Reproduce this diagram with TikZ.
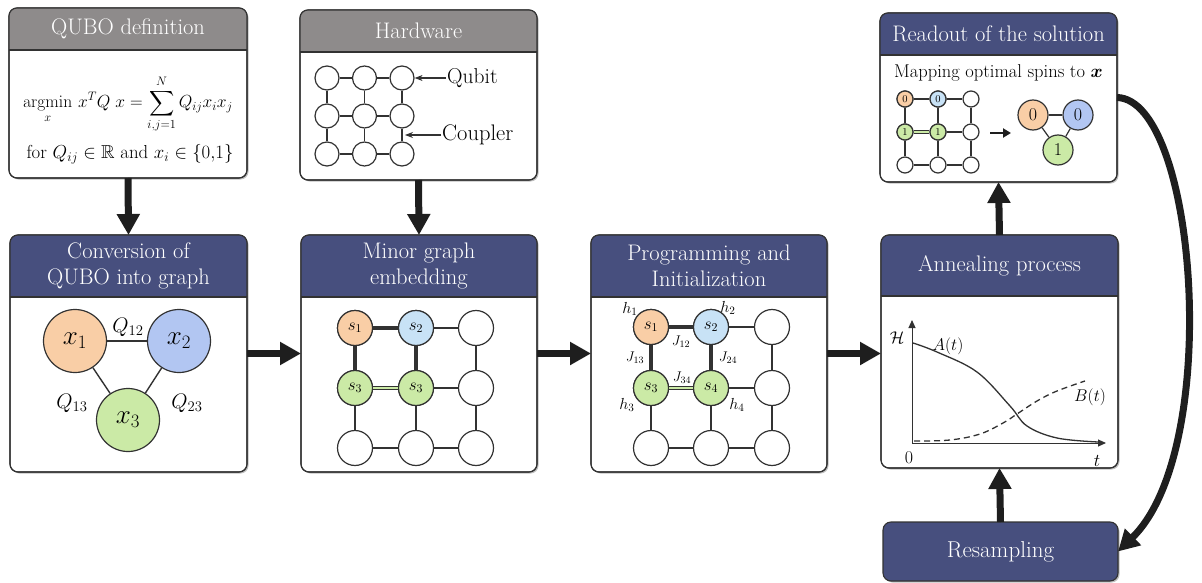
\documentclass[tikz,border=0pt]{standalone}
\usepackage{fix-cm}
\usepackage{amsmath,amssymb}
\usetikzlibrary{arrows.meta,shadows,calc}
\definecolor{navy}{RGB}{71,79,126}
\definecolor{hgray}{RGB}{142,139,139}
\definecolor{edge}{RGB}{50,50,50}
\definecolor{arrowc}{RGB}{30,30,30}
\definecolor{orng}{RGB}{249,206,166}
\definecolor{blu}{RGB}{178,198,242}
\definecolor{lblu}{RGB}{200,226,246}
\definecolor{grn}{RGB}{203,234,166}
\tikzset{
  panel/.style n args={2}{draw=edge, line width=1.1pt, fill=white, rounded corners=8pt,
    minimum width=#1, minimum height=#2, inner sep=0pt, outer sep=0pt,
    drop shadow={shadow xshift=1.5pt, shadow yshift=-1.5pt, fill=black, opacity=0.25}},
  htext/.style={text=white, font=\fontsize{22.5}{26}\selectfont, align=center, inner sep=0pt},
  bigarrow/.style={draw=arrowc, line width=7pt, -{Triangle[length=21pt,width=22pt]}},
  thinarrow/.style={draw=edge, line width=1.2pt, -{Stealth[length=8pt,width=6pt]}},
  medarrow/.style={draw=arrowc, line width=2.8pt, -{Triangle[length=8pt,width=9pt]}},
  axarrow/.style={draw=edge, line width=1pt, -{Triangle[length=8pt,width=7pt]}},
  qb/.style={circle, draw=edge, line width=1.2pt, fill=white, inner sep=0pt},
  thinedge/.style={draw=edge, line width=1.2pt},
  thickedge/.style={draw=edge, line width=3.2pt},
  dbl/.style={draw=edge, line width=1pt, double=grn, double distance=2.4pt},
  lbl/.style={inner sep=1pt, font=\fontsize{#1}{#1}\selectfont},
}
\newcommand\hdr[3]{%
  \fill[#3] ([yshift=-#2pt]#1.north west) [rounded corners=8pt] -- (#1.north west) -- (#1.north east) [sharp corners] -- ([yshift=-#2pt]#1.north east) -- cycle;
  \draw[edge, line width=1.1pt] ([yshift=-#2pt]#1.north west) -- ([yshift=-#2pt]#1.north east);
  \draw[edge, line width=1.1pt, rounded corners=8pt] (#1.north west) rectangle (#1.south east);
}
\begin{document}
\begin{tikzpicture}[x=1pt, y=-1pt]
\useasboundingbox (0,0) rectangle (1202,583);

% ---------- panels ----------
\node[panel={238pt}{170pt}] (qubo) at (128,93) {};
\hdr{qubo}{42}{hgray}
\node[panel={237pt}{170pt}] (hw) at (418.5,95) {};
\hdr{hw}{42}{hgray}
\node[panel={237pt}{169pt}] (ro) at (998.5,97.5) {};
\hdr{ro}{42}{navy}
\node[panel={237pt}{237pt}] (conv) at (128.5,353.5) {};
\hdr{conv}{62}{navy}
\node[panel={236pt}{237pt}] (minor) at (419,353.5) {};
\hdr{minor}{62}{navy}
\node[panel={236pt}{237pt}] (prog) at (709,353.5) {};
\hdr{prog}{62}{navy}
\node[panel={237pt}{233pt}] (anneal) at (999.5,351.5) {};
\hdr{anneal}{61}{navy}
\node[panel={235pt}{59pt}, fill=navy, text=white, font=\fontsize{23}{26}\selectfont] (resamp) at (1000.5,551.5) {Resampling};

% ---------- header texts ----------
\node[htext] (qubo-t) at (128,29) {QUBO definition};
\node[htext] (hw-t) at (418.5,31) {Hardware};
\node[htext] (ro-t) at (998.5,34) {Readout of the solution};
\node[htext] (conv-t) at (128.5,266) {Conversion of\\QUBO into graph};
\node[htext] (minor-t) at (419,266) {Minor graph\\embedding};
\node[htext] (prog-t) at (709,266) {Programming and\\Initialization};
\node[htext] (anneal-t) at (999.5,265.5) {Annealing process};

% ---------- QUBO definition ----------
\node[lbl=17.5] (qeq) at (128,104) {$\displaystyle \operatorname*{argmin}_{x}\, x^{T}Q\;x=\sum_{i,j=1}^{N}Q_{ij}x_ix_j$};
\node[lbl=18.8] (qcond) at (130,154) {for $Q_{ij}\in\mathbb{R}$ and $x_i\in\{0{,}1\}$};

% ---------- Hardware ----------
\foreach \i/\x in {1/327,2/364.5,3/402}
  \foreach \j/\y in {1/78,2/116,3/154}
    \node[qb, minimum size=24pt] (h\j\i) at (\x,\y) {};
\foreach \j in {1,2,3} {
  \draw[thinedge] (h\j1) -- (h\j2); \draw[thinedge] (h\j2) -- (h\j3);
  \draw[thinedge] (h1\j) -- (h2\j); \draw[thinedge] (h2\j) -- (h3\j);
}
\node[lbl=21.5, anchor=west] (qubit) at (446,78) {Qubit};
\node[lbl=22.5, anchor=west] (coupler) at (441,135) {Coupler};
\coordinate (cpl) at (405,135);
\draw[thinarrow] (qubit.west) -- (h13.east);
\draw[thinarrow] (coupler.west) -- (cpl);

% ---------- Readout ----------
\node[lbl=18.5] (map) at (998.5,73) {Mapping optimal spins to $\boldsymbol{x}$};
\foreach \i/\x in {1/905,2/938,3/971}
  \foreach \j/\y in {1/99,2/132,3/165}
    \node[qb, minimum size=16pt, font=\fontsize{10}{10}\selectfont] (r\j\i) at (\x,\y) {};
\node[qb, minimum size=16pt, fill=orng, font=\fontsize{10.5}{10}\selectfont] at (r11) {0};
\node[qb, minimum size=16pt, fill=lblu, font=\fontsize{10.5}{10}\selectfont] at (r12) {0};
\node[qb, minimum size=16pt, fill=grn, font=\fontsize{10.5}{10}\selectfont] at (r21) {1};
\node[qb, minimum size=16pt, fill=grn, font=\fontsize{10.5}{10}\selectfont] at (r22) {1};
\draw[thickedge, line width=2.6pt] (r11) -- (r12);
\draw[thickedge, line width=2.6pt] (r11) -- (r21);
\draw[thickedge, line width=2.6pt] (r12) -- (r22);
\draw[dbl, line width=0.9pt, double distance=1.8pt] (r21) -- (r22);
\draw[thinedge] (r12) -- (r13); \draw[thinedge] (r22) -- (r23);
\draw[thinedge] (r31) -- (r32); \draw[thinedge] (r32) -- (r33);
\draw[thinedge] (r13) -- (r23); \draw[thinedge] (r23) -- (r33);
\draw[thinedge] (r21) -- (r31); \draw[thinedge] (r22) -- (r32);
\coordinate (ra) at (990,133);
\coordinate (rb) at (1011,133);
\draw[medarrow] (ra) -- (rb);
\node[qb, minimum size=30pt, fill=orng, font=\fontsize{18}{18}\selectfont] (t1) at (1033,115) {0};
\node[qb, minimum size=30pt, fill=blu, font=\fontsize{18}{18}\selectfont] (t2) at (1078,115) {0};
\node[qb, minimum size=30pt, fill=grn, font=\fontsize{18}{18}\selectfont] (t3) at (1058,150) {1};
\draw[thinedge] (t1) -- (t2); \draw[thinedge] (t1) -- (t3); \draw[thinedge] (t2) -- (t3);

% ---------- Conversion ----------
\node[qb, minimum size=63pt, fill=orng, font=\fontsize{27}{27}\selectfont] (x1) at (75,341) {$x_1$};
\node[qb, minimum size=63pt, fill=blu, font=\fontsize{27}{27}\selectfont] (x2) at (179,341) {$x_2$};
\node[qb, minimum size=63pt, fill=grn, font=\fontsize{27}{27}\selectfont] (x3) at (128,420) {$x_3$};
\draw[thinedge, line width=1.4pt] (x1) -- (x2);
\draw[thinedge, line width=1.4pt] (x1) -- (x3);
\draw[thinedge, line width=1.4pt] (x2) -- (x3);
\node[lbl=21] (q12) at (128,327) {$Q_{12}$};
\node[lbl=21] (q13) at (72,403) {$Q_{13}$};
\node[lbl=21] (q23) at (187,403) {$Q_{23}$};

% ---------- Minor graph embedding ----------
\foreach \i/\x in {1/355,2/416,3/476}
  \foreach \j/\y in {1/328,2/388,3/448}
    \node[qb, minimum size=35pt] (m\j\i) at (\x,\y) {};
\node[qb, minimum size=35pt, fill=orng, font=\fontsize{17}{17}\selectfont] at (m11) {$s_1$};
\node[qb, minimum size=35pt, fill=lblu, font=\fontsize{17}{17}\selectfont] at (m12) {$s_2$};
\node[qb, minimum size=35pt, fill=grn, font=\fontsize{17}{17}\selectfont] at (m21) {$s_3$};
\node[qb, minimum size=35pt, fill=grn, font=\fontsize{17}{17}\selectfont] at (m22) {$s_3$};
\draw[thickedge] (m11) -- (m12);
\draw[thickedge] (m11) -- (m21);
\draw[thickedge] (m12) -- (m22);
\draw[dbl] (m21) -- (m22);
\draw[thinedge] (m12) -- (m13); \draw[thinedge] (m22) -- (m23);
\draw[thinedge] (m31) -- (m32); \draw[thinedge] (m32) -- (m33);
\draw[thinedge] (m13) -- (m23); \draw[thinedge] (m23) -- (m33);
\draw[thinedge] (m21) -- (m31); \draw[thinedge] (m22) -- (m32);

% ---------- Programming and Initialization ----------
\foreach \i/\x in {1/651,2/711,3/772}
  \foreach \j/\y in {1/327,2/388,3/448}
    \node[qb, minimum size=35pt] (p\j\i) at (\x,\y) {};
\node[qb, minimum size=35pt, fill=orng, font=\fontsize{17}{17}\selectfont] at (p11) {$s_1$};
\node[qb, minimum size=35pt, fill=lblu, font=\fontsize{17}{17}\selectfont] at (p12) {$s_2$};
\node[qb, minimum size=35pt, fill=grn, font=\fontsize{17}{17}\selectfont] at (p21) {$s_3$};
\node[qb, minimum size=35pt, fill=grn, font=\fontsize{17}{17}\selectfont] at (p22) {$s_4$};
\draw[thickedge] (p11) -- (p12);
\draw[thickedge] (p11) -- (p21);
\draw[thickedge] (p12) -- (p22);
\draw[dbl] (p21) -- (p22);
\draw[thinedge] (p12) -- (p13); \draw[thinedge] (p22) -- (p23);
\draw[thinedge] (p31) -- (p32); \draw[thinedge] (p32) -- (p33);
\draw[thinedge] (p13) -- (p23); \draw[thinedge] (p23) -- (p33);
\draw[thinedge] (p21) -- (p31); \draw[thinedge] (p22) -- (p32);
\node[lbl=16] (lh1) at (630,309) {$h_1$};
\node[lbl=16] (lh2) at (728,308) {$h_2$};
\node[lbl=16] (lh3) at (627,405) {$h_3$};
\node[lbl=16] (lh4) at (737,405) {$h_4$};
\node[lbl=14] (lj12) at (681,342) {$J_{12}$};
\node[lbl=14] (lj13) at (635,358) {$J_{13}$};
\node[lbl=14] (lj24) at (728,358) {$J_{24}$};
\node[lbl=14] (lj34) at (682,378) {$J_{34}$};

% ---------- Annealing ----------
\coordinate (o) at (912,443);
\coordinate (ytop) at (912,320);
\coordinate (xend) at (1106,443);
\draw[axarrow] (o) -- (ytop);
\draw[axarrow] (o) -- (xend);
\draw[edge, line width=1.3pt] plot[smooth, tension=0.6] coordinates {(913,343) (937,352) (977,372) (1010,406) (1027,426) (1057,438) (1098,442)};
\draw[edge, line width=1.3pt, dash pattern=on 6pt off 4pt] plot[smooth, tension=0.6] coordinates {(914,441) (950,440) (980,434) (1003,423) (1017,414) (1037,401) (1057,391) (1085,381)};
\node[lbl=17] (lH) at (897,338) {$\mathcal{H}$};
\node[lbl=17] (lA) at (948,346) {$A(t)$};
\node[lbl=17] (lB) at (1090,397) {$B(t)$};
\node[lbl=18] (l0) at (909,458) {$0$};
\node[lbl=18] (lt) at (1097,461) {$t$};

% ---------- flow arrows ----------
\draw[bigarrow] (qubo.south) -- (conv.north);
\draw[bigarrow] (hw.south) -- (minor.north);
\draw[bigarrow] (conv.east) -- (minor.west);
\draw[bigarrow] (minor.east) -- (prog.west);
\draw[bigarrow] (prog.east) -- (prog.east -| anneal.west);
\draw[bigarrow] (anneal.north) -- (ro.south);
\draw[bigarrow] (resamp.north) -- (anneal.south);
\draw[bigarrow] (ro.east) .. controls +(80,2) and +(105,-102) .. (resamp.east);
\end{tikzpicture}
\end{document}
